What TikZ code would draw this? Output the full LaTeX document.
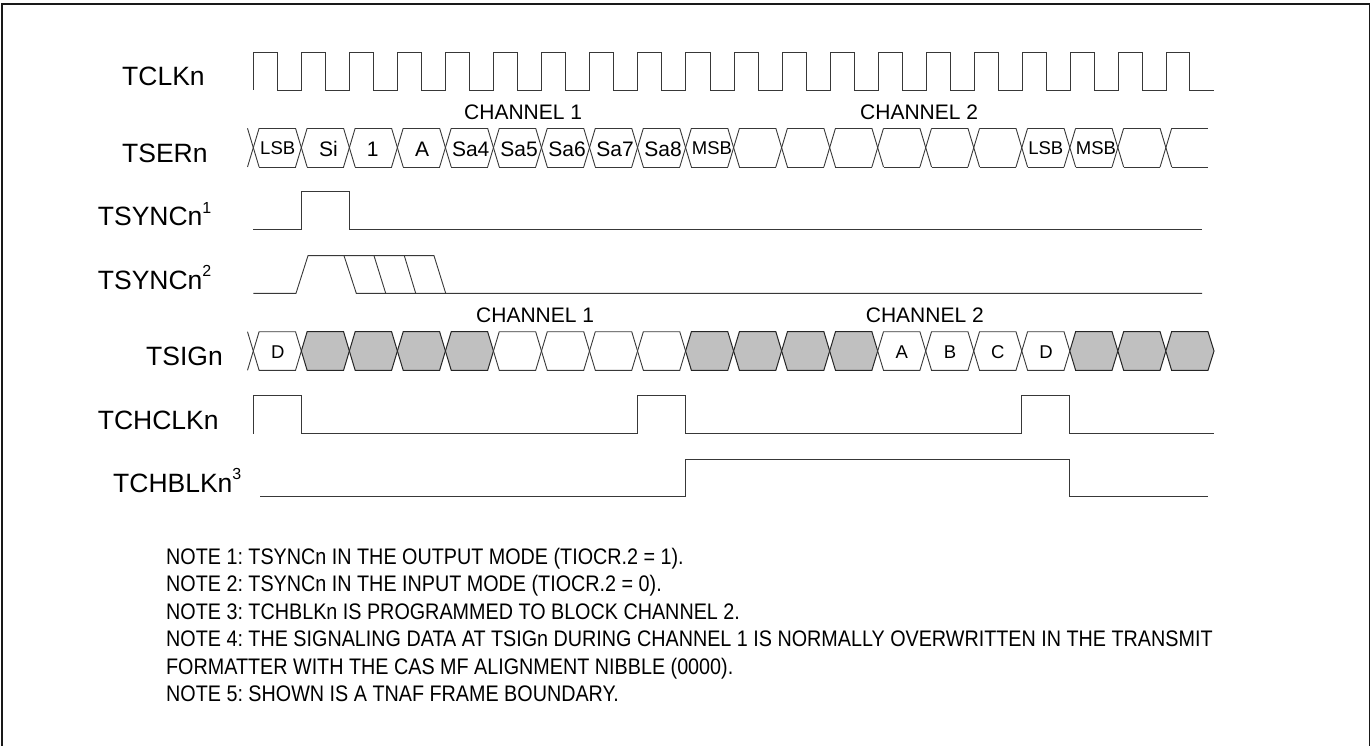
\documentclass[tikz,border=0pt]{standalone}
\usepackage{fontspec}
\setmainfont{Liberation Sans}
\frenchspacing
\definecolor{cellgray}{HTML}{C0C0C0}
\tikzset{
  x=1pt,y=-1pt,
  wave/.style={draw=black!78,line width=0.9pt,line join=miter},
  sig/.style={inner sep=0pt,anchor=base west,font=\fontsize{26.5}{30}\selectfont},
  chan/.style={inner sep=0pt,anchor=base west,font=\fontsize{21}{24}\selectfont},
  big/.style={inner sep=0pt,anchor=base,font=\fontsize{21}{24}\selectfont},
  small/.style={inner sep=0pt,anchor=base,font=\fontsize{18.5}{22}\selectfont},
  note/.style={inner sep=0pt,anchor=base west,xscale=0.878,font=\fontsize{22.5}{26}\selectfont},
  frame/.style={draw=black!90,line width=1.8pt},
  graycell/.style={fill=cellgray,draw=black!85,line width=1pt,line join=miter},
  whitecell/.style={draw=black!78,line width=0.9pt,line join=miter},
}
\newcommand{\supnum}[1]{\raisebox{12.3pt}{\fontsize{16}{16}\selectfont #1}}
\begin{document}
\begin{tikzpicture}
\useasboundingbox (0,0) rectangle (1371,746);
\draw[frame] (1.8,746) -- (1.8,4) -- (1369.5,4) -- (1369.5,746);

% labels
\node[sig] (lclk) at (122,86) {TCLKn};
\node[sig] (lser) at (122,162.7) {TSERn};
\node[sig] (lsyncA) at (97.7,225.7) {TSYNCn\supnum{1}};
\node[sig] (lsyncB) at (97.7,289) {TSYNCn\supnum{2}};
\node[sig] (lsig) at (146,365.7) {TSIGn};
\node[sig] (lchclk) at (97.7,429) {TCHCLKn};
\node[sig] (lchblk) at (113,492) {TCHBLKn\supnum{3}};

% channel labels
\node[chan] (c1a) at (464,119.3) {CHANNEL 1};
\node[chan] (c2a) at (860,119.3) {CHANNEL 2};
\node[chan] (c1b) at (476,322) {CHANNEL 1};
\node[chan] (c2b) at (865.7,322) {CHANNEL 2};

% TCLKn
\draw[wave] (253.3,90) -- (253.3,52)
  foreach \k in {0,...,18} { -- ({277.7+48.03*\k},52) -- ({277.7+48.03*\k},90) -- ({301.7+48.03*\k},90) -- ({301.7+48.03*\k},52) }
  -- (1189.7,52) -- (1189.7,90) -- (1214,90);

% TSERn
\foreach \k in {0,...,19} {
  \pgfmathsetmacro{\c}{253.3+48.03*\k}
  \pgfmathsetmacro{\d}{\c+48.03}
  \draw[whitecell] ({\c-5.8},128.3) -- ({\c+5.8},167);
  \draw[whitecell] ({\c-5.8},167) -- ({\c+5.8},128.3);
  \ifnum\k<19
    \draw[whitecell] ({\c+5.8},128.3) -- ({\d-5.8},128.3);
    \draw[whitecell] ({\c+5.8},167) -- ({\d-5.8},167);
  \else
    \draw[whitecell] ({\c+5.8},128.3) -- (1208,128.3);
    \draw[whitecell] ({\c+5.8},167) -- (1208,167);
  \fi
}
\node[small] (s0) at (277.7,154.3) {LSB};
\node[big] (s1) at (328.5,156.7) {Si};
\node[big] (s2) at (372.7,156.7) {1};
\node[big] (s3) at (422,156.7) {A};
\node[big] (s4) at (470.7,156.7) {Sa4};
\node[big] (s5) at (519,156.7) {Sa5};
\node[big] (s6) at (567,156.7) {Sa6};
\node[big] (s7) at (615,156.7) {Sa7};
\node[big] (s8) at (663,156.7) {Sa8};
\node[small] (s9) at (712,154.3) {MSB};
\node[small] (s10) at (1045.8,154.3) {LSB};
\node[small] (s11) at (1096,154.3) {MSB};

% TSYNCn 1
\draw[wave] (253.3,229.7) -- (301.7,229.7) -- (301.7,191.7) -- (349.7,191.7) -- (349.7,229.7) -- (1202,229.7);

% TSYNCn 2
\draw[wave] (253.3,293.3) -- (296,293.3) -- (308,255.7) -- (434,255.7) -- (445.7,293.3);
\draw[wave] (344,255.7) -- (356.3,293.3) -- (1202,293.3);
\draw[wave] (374,255.7) -- (385.7,293.3);
\draw[wave] (404.3,255.7) -- (415.7,293.3);

% TSIGn
\foreach \k/\kind in {0/w,1/g,2/g,3/g,4/g,5/w,6/w,7/w,8/w,9/g,10/g,11/g,12/g,13/w,14/w,15/w,16/w,17/g,18/g} {
  \pgfmathsetmacro{\c}{253.3+48.03*\k}
  \pgfmathsetmacro{\d}{\c+48.03}
  \if\kind g
    \draw[graycell] (\c,351) -- ({\c+5.8},331.7) -- ({\d-5.8},331.7) -- (\d,351) -- ({\d-5.8},370.3) -- ({\c+5.8},370.3) -- cycle;
  \else
    \draw[whitecell] (\c,351) -- ({\c+5.8},331.7) -- ({\d-5.8},331.7) -- (\d,351) -- ({\d-5.8},370.3) -- ({\c+5.8},370.3) -- cycle;
  \fi
}
\draw[graycell] (1165.8,351) -- (1171.6,331.7) -- (1208,331.7) -- (1214,351) -- (1208,370.3) -- (1171.6,370.3) -- cycle;
\draw[whitecell] (247.5,331.7) -- (253.3,351) -- (247.5,370.3);
\node[small] (g0) at (277.7,358.3) {D};
\node[small] (g1) at (901.7,358.3) {A};
\node[small] (g2) at (950,358.3) {B};
\node[small] (g3) at (997.7,358.3) {C};
\node[small] (g4) at (1046,358.3) {D};

% TCHCLKn
\draw[wave] (253.3,433.7) -- (253.3,395) -- (301,395) -- (301,433.7) -- (637.7,433.7) -- (637.7,395) -- (685,395) -- (685,433.7) -- (1021.7,433.7) -- (1021.7,395) -- (1069.7,395) -- (1069.7,433.7) -- (1214,433.7);

% TCHBLKn
\draw[wave] (260,496.7) -- (685.7,496.7) -- (685.7,459) -- (1069.7,459) -- (1069.7,496.7) -- (1208,496.7);

% notes
\node[note] (n1) at (166,564) {NOTE 1: TSYNCn IN THE OUTPUT MODE (TIOCR.2 = 1).};
\node[note] (n2) at (166,591) {NOTE 2: TSYNCn IN THE INPUT MODE (TIOCR.2 = 0).};
\node[note] (n3) at (166,619) {NOTE 3: TCHBLKn IS PROGRAMMED TO BLOCK CHANNEL 2.};
\node[note] (n4) at (166,646) {NOTE 4: THE SIGNALING DATA AT TSIGn DURING CHANNEL 1 IS NORMALLY OVERWRITTEN IN THE TRANSMIT};
\node[note] (n5) at (166,674) {FORMATTER WITH THE CAS MF ALIGNMENT NIBBLE (0000).};
\node[note] (n6) at (166,701) {NOTE 5: SHOWN IS A TNAF FRAME BOUNDARY.};
\end{tikzpicture}
\end{document}
